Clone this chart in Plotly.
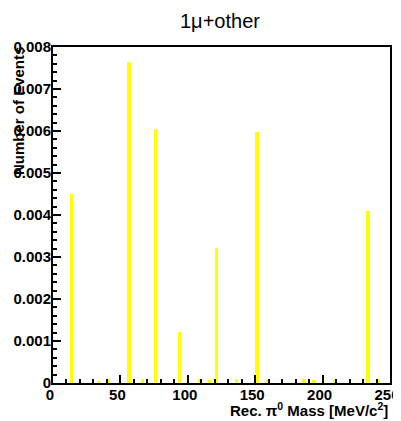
import plotly.graph_objects as go

# Histogram bins (bin centers, 2.5 MeV/c^2 wide) and normalized counts
bin_centers = [13.75, 33.75, 41.25, 56.25, 66.25, 76.25, 93.75, 108.75, 116.25,
               121.25, 136.25, 151.25, 158.75, 186.25, 193.75, 208.75, 233.75, 241.25]
counts = [0.00450, 0.00005, 0.00010, 0.00765, 0.00010, 0.00605, 0.00122, 0.00010, 0.00007,
          0.00321, 0.00010, 0.00598, 0.00007, 0.00010, 0.00007, 0.00010, 0.00410, 0.00010]
bin_width = 2.5

y_tick_vals = [0, 0.001, 0.002, 0.003, 0.004, 0.005, 0.006, 0.007, 0.008]
y_tick_text = ["0", "0.001", "0.002", "0.003", "0.004", "0.005", "0.006", "0.007", "0.008"]
x_tick_vals = [0, 50, 100, 150, 200, 250]
x_tick_text = ["0", "50", "100", "150", "200", "250"]

W, H = 401, 421
OFF = 8  # page body margin offset
# target plot box in window pixels
X0, X1, Y0, Y1 = 53, 390, 47, 383
L = X0 - OFF
T = Y0 - OFF
R = W - (X1 - OFF)
B = H - (Y1 - OFF)

fig = go.Figure()
fig.add_trace(go.Bar(x=bin_centers, y=counts, width=bin_width,
                     marker=dict(color="#ffff00", line=dict(width=0))))

bold = dict(family="Liberation Sans, Arial, sans-serif", size=15, color="black", weight="bold")

fig.update_layout(
    width=W, height=H,
    margin=dict(l=L, r=R, t=T, b=B, autoexpand=False),
    paper_bgcolor="white", plot_bgcolor="white",
    showlegend=False,
    bargap=0,
    xaxis=dict(range=[0, 250], showgrid=False, zeroline=False, automargin=False,
               showline=True, linecolor="black", linewidth=2, mirror=True,
               ticks="inside", ticklen=8, tickwidth=2, tickcolor="black",
               tickvals=x_tick_vals, ticktext=x_tick_text, tickfont=bold,
               ticklabelstandoff=-3, ticklabelshift=-3,
               minor=dict(dtick=10, ticks="inside", ticklen=4, tickwidth=2, tickcolor="black")),
    yaxis=dict(range=[0, 0.008], showgrid=False, zeroline=False, automargin=False,
               showline=True, linecolor="black", linewidth=2, mirror=True,
               ticks="inside", ticklen=8, tickwidth=2, tickcolor="black",
               tickvals=y_tick_vals, ticktext=y_tick_text, tickfont=bold, ticklabelstandoff=-3,
               minor=dict(dtick=0.0002, ticks="inside", ticklen=4, tickwidth=2, tickcolor="black")),
)

pw = W - L - R
ph = H - T - B
def px_x(px):
    return (px - OFF - L) / pw
def px_y(py):
    return (H - B - (py - OFF)) / ph

fig.add_annotation(text="1\u03bc+other", x=px_x(220), y=px_y(21), xref="paper", yref="paper",
                   showarrow=False, xanchor="center", yanchor="middle",
                   font=dict(family="Liberation Sans, Arial, sans-serif", size=20, color="black"))
fig.add_annotation(text="Number of Events", x=px_x(18), y=px_y(45), xref="paper", yref="paper",
                   showarrow=False, textangle=-90, xanchor="center", yanchor="top",
                   font=bold)
fig.add_annotation(text="Rec. \u03c0<sup>0</sup> Mass [MeV/c<sup>2</sup>]", x=px_x(390), y=px_y(409),
                   xref="paper", yref="paper", showarrow=False, xanchor="right", yanchor="middle",
                   font=bold)

fig.write_html("out.html", post_script="document.body.style.overflow='hidden';")
